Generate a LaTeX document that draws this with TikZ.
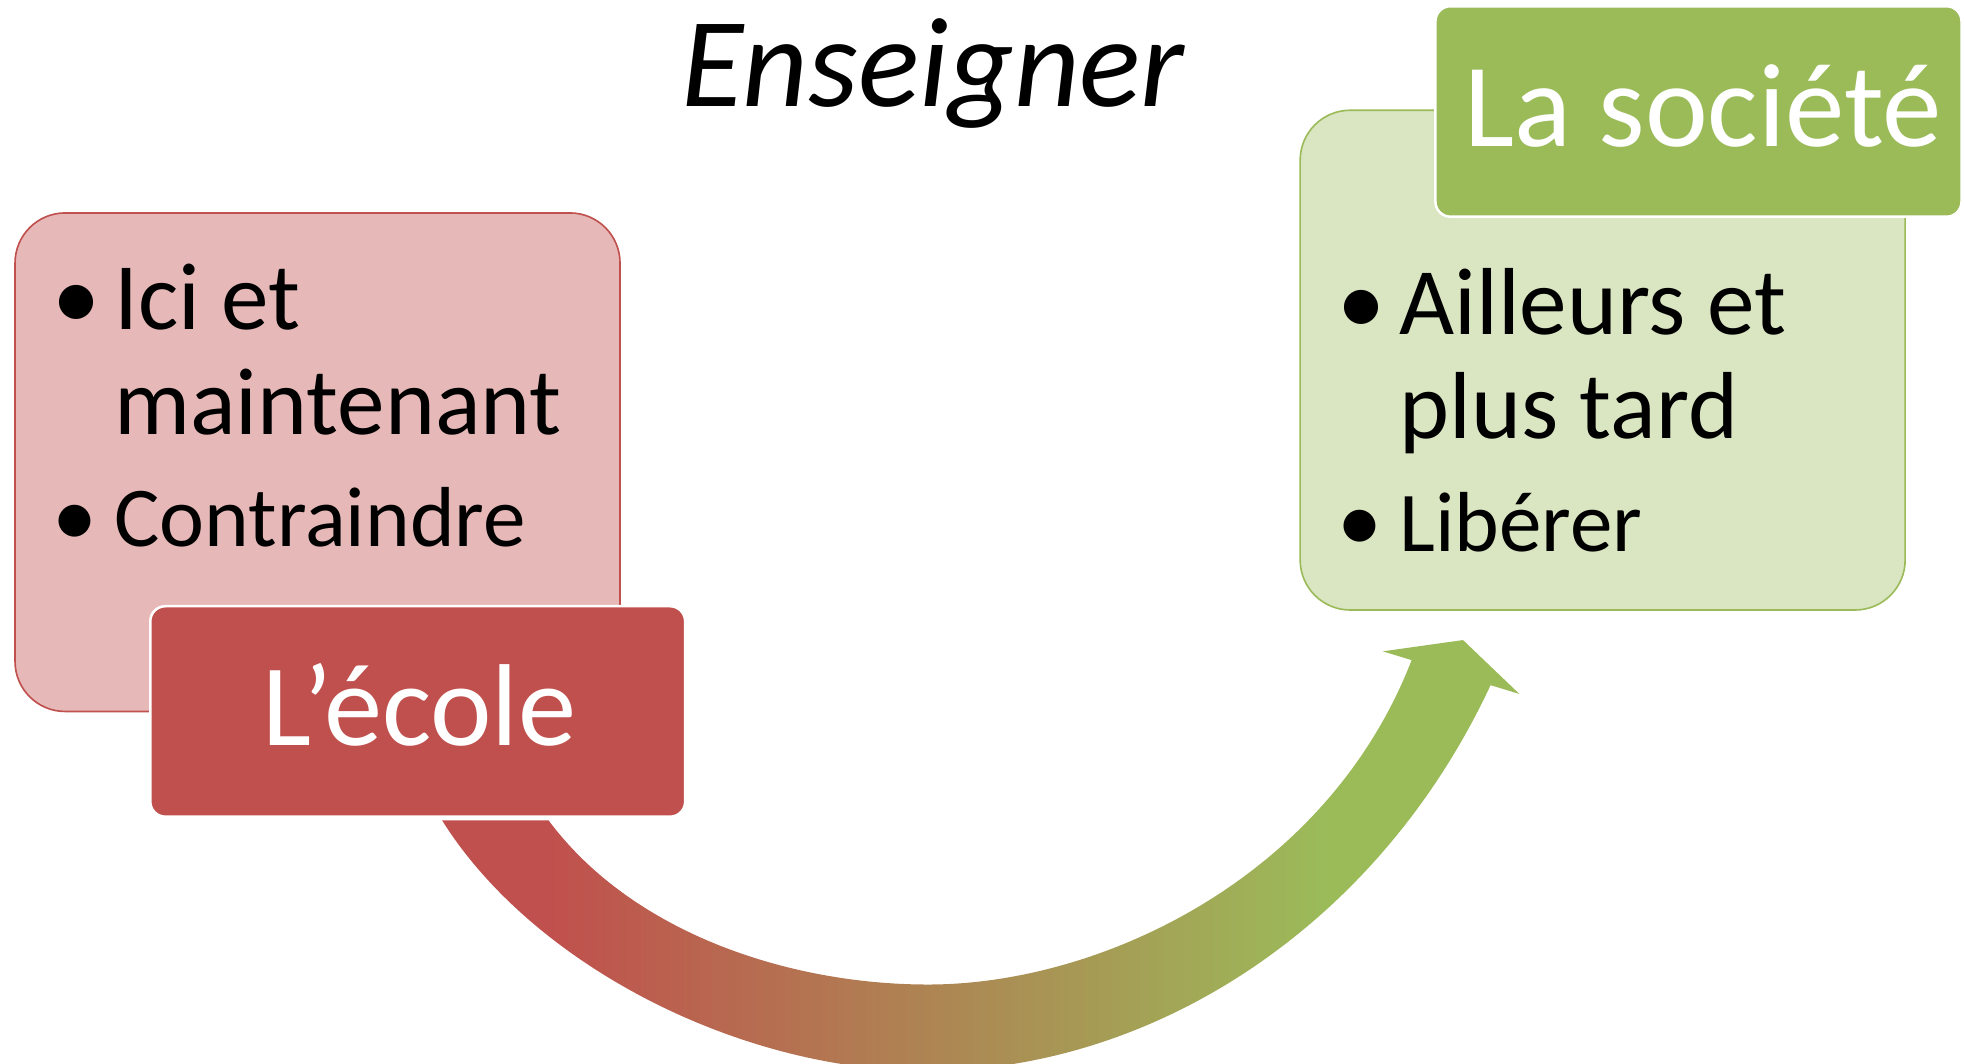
\documentclass[tikz,border=0pt]{standalone}
\usepackage{fontspec}
\setmainfont{Carlito}
\definecolor{accred}{HTML}{C0504D}
\definecolor{lightred}{HTML}{E6B9B8}
\definecolor{accgreen}{HTML}{9BBB59}
\definecolor{lightgreen}{HTML}{DAE5C2}
\pgfdeclarehorizontalshading{redgreen}{100bp}{color(0bp)=(accred); color(30bp)=(accred); color(66bp)=(accgreen); color(100bp)=(accgreen)}
\tikzset{
  bigbox/.style={rectangle, rounded corners=40pt, line width=1.3pt, inner sep=0pt,
    minimum width=483pt, minimum height=398pt},
  smallbox/.style={rectangle, rounded corners=12pt, draw=white, line width=2pt, inner sep=0pt,
    minimum width=427pt, minimum height=168pt},
  bodytext/.style={inner sep=0pt, anchor=base west, font=\fontsize{76}{91}\selectfont},
  bodytextsmall/.style={inner sep=0pt, anchor=base west, font=\fontsize{68}{82}\selectfont},
  bullettext/.style={inner sep=0pt, anchor=base, font=\fontsize{77}{92}\selectfont},
  bullettextsmall/.style={inner sep=0pt, anchor=base, font=\fontsize{72}{86}\selectfont},
  titletext/.style={inner sep=0pt, anchor=base, text=white, font=\fontsize{95}{114}\selectfont},
}
\begin{document}
\begin{tikzpicture}[x=1pt,y=-1pt]
\useasboundingbox (0,0) rectangle (1568,849.4);

% arrow (behind the boxes)
\coordinate (arrowtip) at (1168,511);
\shade[shading=redgreen]
  (353,655) .. controls (425,770) and (590,855) .. (740,855)
  .. controls (920,855) and (1100,740) .. (1190,547)
  -- (1213,554) -- (arrowtip) -- (1104,520) -- (1127,527)
  .. controls (1060,700) and (880,786) .. (741,786)
  .. controls (630,786) and (505,745) .. (438,655) -- cycle;

% title
\node[inner sep=0pt, anchor=base, font=\fontsize{102}{122}\selectfont\itshape] (title) at (745,85) {Enseigner};

% left group
\node[bigbox, fill=lightred, draw=accred, minimum height=398pt] (leftbox) at (253.5,369) {};
\node[bullettext] (lb1) at (61,263) {•};
\node[bodytext] (l1) at (91,263) {Ici et};
\node[bodytext] (l2) at (91,347) {maintenant};
\node[bullettextsmall] (lb2) at (60,436) {•};
\node[bodytextsmall] (l3) at (91,436) {Contraindre};
\node[smallbox, fill=accred] (ecole) at (333.5,568) {};
\node[titletext, font=\fontsize{93}{112}\selectfont] (ecoletext) at (335,595) {L’école};

% right group
\node[bigbox, fill=lightgreen, draw=accgreen, minimum height=399pt] (rightbox) at (1279.5,287.5) {};
\node[bullettext] (rb1) at (1087,267) {•};
\node[bodytext] (r1) at (1117,267) {Ailleurs et};
\node[bodytext] (r2) at (1117,350) {plus tard};
\node[bullettextsmall] (rb2) at (1086,440) {•};
\node[bodytextsmall] (r3) at (1117,440) {Libérer};
\node[smallbox, fill=accgreen, minimum width=420pt] (societe) at (1356,89) {};
\node[titletext] (societetext) at (1360,117) {La société};
\end{tikzpicture}
\end{document}
